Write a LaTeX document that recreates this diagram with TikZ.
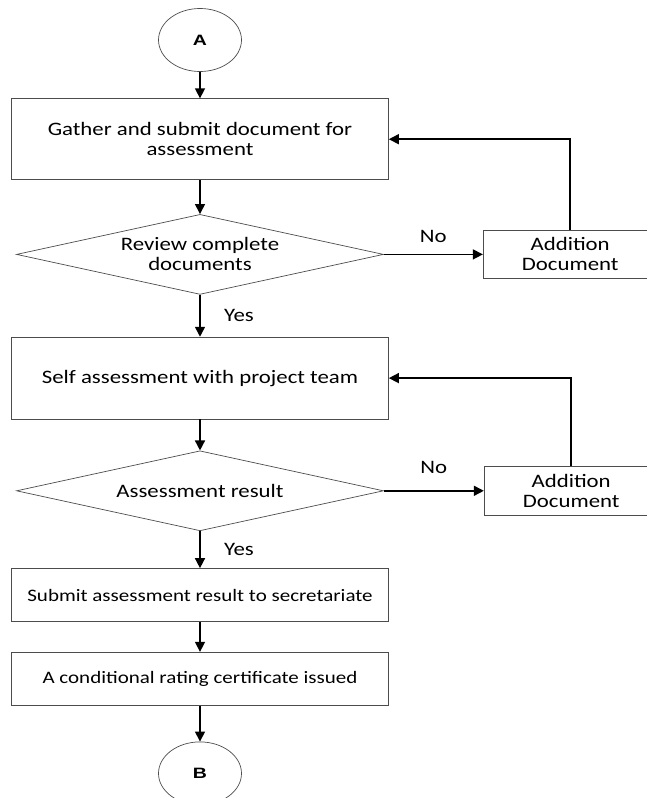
\documentclass[tikz,border=0pt]{standalone}
\usepackage{fontspec}
\setmainfont[FakeStretch=1.2]{Carlito}
\newfontfamily\connfont[FakeStretch=1.3]{Liberation Sans}
\usetikzlibrary{shapes.geometric, arrows.meta, positioning}

\begin{document}
\begin{tikzpicture}[
  x=1pt, y=-1pt,
  node distance=30pt,
  connector/.style={ellipse, draw=black!70, line width=0.7pt, minimum width=83pt, minimum height=63pt, font=\connfont\bfseries\fontsize{15}{17}\selectfont},
  process/.style={rectangle, draw=black!70, line width=0.7pt, minimum width=377pt, align=center, font=\fontsize{19}{20}\selectfont},
  decision/.style={diamond, draw=black!70, line width=0.7pt, aspect=4.6, inner sep=0pt, minimum width=367pt, minimum height=80pt, align=center, font=\fontsize{19}{20}\selectfont},
  extra/.style={rectangle, draw=black!70, line width=0.7pt, minimum width=174pt, minimum height=48pt, inner sep=0pt, align=center, font=\fontsize{19}{20}\selectfont},
  small/.style={font=\fontsize{17.5}{20}\selectfont},
  answer/.style={font=\fontsize{19}{20}\selectfont},
  arrow/.style={-{Triangle[length=10pt, width=10pt]}, line width=1.5pt}
]
\useasboundingbox (0,0) rectangle (647,798);

\node[connector] (startA) at (200,40) {A};
\node[process, minimum height=81pt, below=26.5pt of startA] (gather) {Gather and submit document for\\assessment};
\node[decision, below=34pt of gather] (review) {Review complete\\documents};
\node[extra, right=99pt of review] (add1) {Addition\\Document};
\node[process, minimum height=82pt, below=42pt of review] (selfa) {Self assessment with project team};
\node[decision, below=31pt of selfa] (assess) {Assessment result};
\node[extra, minimum height=49pt, right=100pt of assess] (add2) {Addition\\Document};
\node[process, small, minimum height=53pt, below=37pt of assess] (submit) {Submit assessment result to secretariate};
\node[process, small, minimum height=53pt, below=30pt of submit] (cert) {A conditional rating certificate issued};
\node[connector, below=36pt of cert] (endB) {B};

% Main flow
\draw[arrow] (startA) -- (gather);
\draw[arrow] (gather) -- (review);
\draw[arrow] (review) -- node[answer, right=20pt] {Yes} (selfa);
\draw[arrow] (selfa) -- (assess);
\draw[arrow] (assess) -- node[answer, right=20pt] {Yes} (submit);
\draw[arrow] (submit) -- (cert);
\draw[arrow] (cert) -- (endB);

% Rework loops
\draw[arrow] (review) -- node[answer, above=8pt] {No} (add1);
\draw[arrow] (add1.north) |- (gather.east);
\draw[arrow] (assess) -- node[answer, above=13pt] {No} (add2);
\draw[arrow] (add2.north) |- (selfa.east);

\end{tikzpicture}
\end{document}
